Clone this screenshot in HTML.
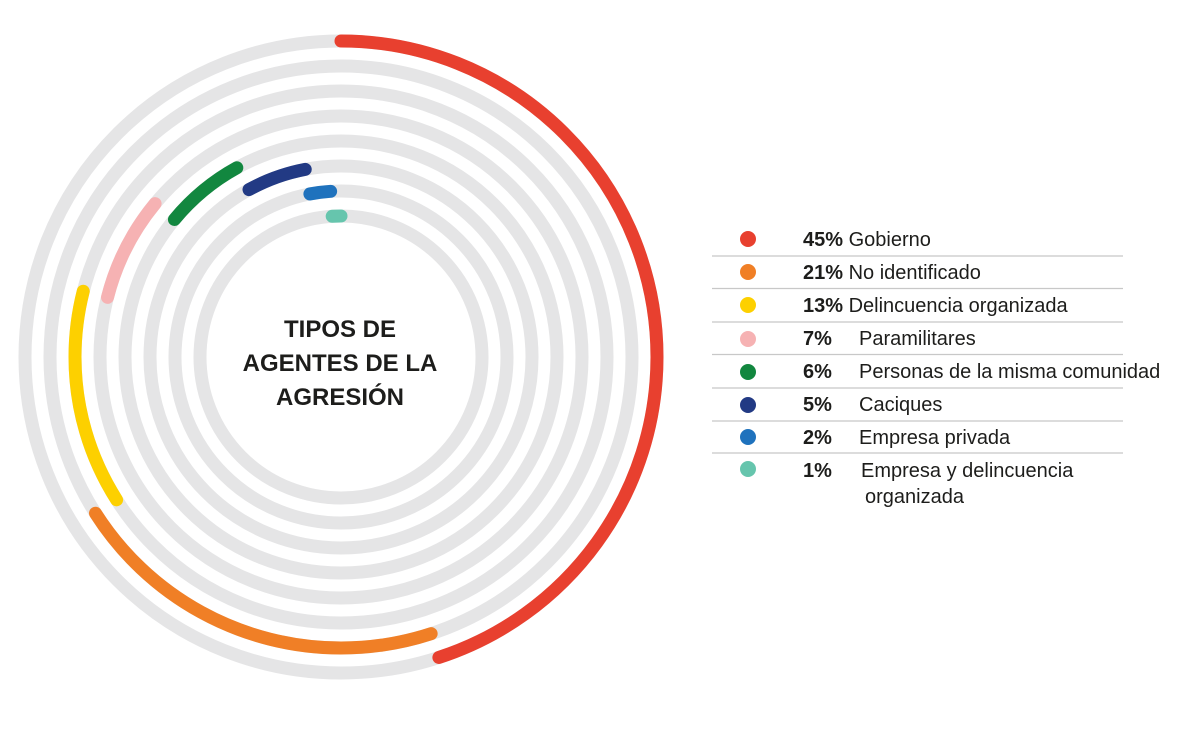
<!DOCTYPE html>
<html><head><meta charset="utf-8"><style>
body{margin:0;background:#fff;width:1200px;height:738px;overflow:hidden;font-family:"Liberation Sans",sans-serif}
</style></head><body>
<svg width="1200" height="738" viewBox="0 0 1200 738" xmlns="http://www.w3.org/2000/svg">
<g fill="none" stroke="#e5e5e6" stroke-width="13">
<circle cx="341" cy="357" r="316"/><circle cx="341" cy="357" r="291"/><circle cx="341" cy="357" r="266"/><circle cx="341" cy="357" r="241"/>
<circle cx="341" cy="357" r="216"/><circle cx="341" cy="357" r="191"/><circle cx="341" cy="357" r="166"/><circle cx="341" cy="357" r="141"/>
</g>
<g fill="none" stroke-width="13" stroke-linecap="round" transform="rotate(-90 341 357)">
<circle cx="341" cy="357" r="316" pathLength="360" stroke="#e8402f" stroke-dasharray="162 1000" stroke-dashoffset="0"/>
<circle cx="341" cy="357" r="291" pathLength="360" stroke="#f07f26" stroke-dasharray="75.6 1000" stroke-dashoffset="-162"/>
<circle cx="341" cy="357" r="266" pathLength="360" stroke="#fdd000" stroke-dasharray="46.8 1000" stroke-dashoffset="-237.6"/>
<circle cx="341" cy="357" r="241" pathLength="360" stroke="#f6b2b3" stroke-dasharray="25.2 1000" stroke-dashoffset="-284.4"/>
<circle cx="341" cy="357" r="216" pathLength="360" stroke="#12873f" stroke-dasharray="21.6 1000" stroke-dashoffset="-309.6"/>
<circle cx="341" cy="357" r="191" pathLength="360" stroke="#223a84" stroke-dasharray="18 1000" stroke-dashoffset="-331.2"/>
<circle cx="341" cy="357" r="166" pathLength="360" stroke="#1f72bd" stroke-dasharray="7.2 1000" stroke-dashoffset="-349.2"/>
<circle cx="341" cy="357" r="141" pathLength="360" stroke="#66c5ad" stroke-dasharray="3.6 1000" stroke-dashoffset="-356.4"/>
</g>
<g font-family="Liberation Sans, sans-serif" font-weight="bold" font-size="24" fill="#1d1d1b" text-anchor="middle">
<text x="340" y="337">TIPOS DE</text>
<text x="340" y="371">AGENTES DE LA</text>
<text x="340" y="405">AGRESIÓN</text>
</g>
<g stroke="#c8c8c8" stroke-width="1.2">
<line x1="712" y1="256" x2="1123" y2="256"/><line x1="712" y1="288.5" x2="1123" y2="288.5"/><line x1="712" y1="322" x2="1123" y2="322"/>
<line x1="712" y1="354.5" x2="1123" y2="354.5"/><line x1="712" y1="388" x2="1123" y2="388"/><line x1="712" y1="421" x2="1123" y2="421"/>
<line x1="712" y1="453" x2="1123" y2="453"/>
</g>
<g>
<circle cx="748" cy="239" r="8" fill="#e8402f"/><circle cx="748" cy="272" r="8" fill="#f07f26"/>
<circle cx="748" cy="305" r="8" fill="#fdd000"/><circle cx="748" cy="339" r="8" fill="#f6b2b3"/>
<circle cx="748" cy="372" r="8" fill="#12873f"/><circle cx="748" cy="405" r="8" fill="#223a84"/>
<circle cx="748" cy="437" r="8" fill="#1f72bd"/><circle cx="748" cy="469" r="8" fill="#66c5ad"/>
</g>
<g font-family="Liberation Sans, sans-serif" font-size="20" fill="#1d1d1b">
<text x="803" y="246"><tspan font-weight="bold">45%</tspan> Gobierno</text>
<text x="803" y="279"><tspan font-weight="bold">21%</tspan> No identificado</text>
<text x="803" y="312"><tspan font-weight="bold">13%</tspan> Delincuencia organizada</text>
<text x="803" y="345" font-weight="bold">7%</text><text x="859" y="345">Paramilitares</text>
<text x="803" y="378" font-weight="bold">6%</text><text x="859" y="378">Personas de la misma comunidad</text>
<text x="803" y="411" font-weight="bold">5%</text><text x="859" y="411">Caciques</text>
<text x="803" y="444" font-weight="bold">2%</text><text x="859" y="444">Empresa privada</text>
<text x="803" y="477" font-weight="bold">1%</text><text x="861" y="477">Empresa y delincuencia</text>
<text x="865" y="503">organizada</text>
</g>
</svg>
</body></html>
